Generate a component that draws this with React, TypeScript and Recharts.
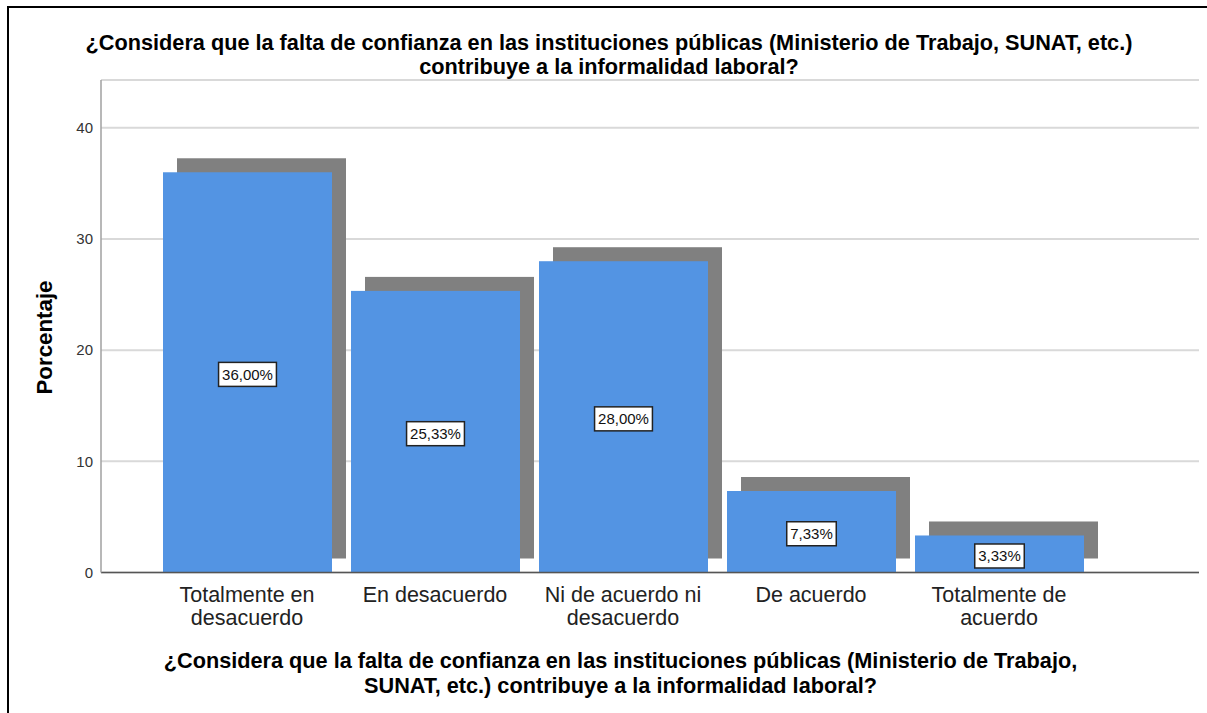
import React from 'react';
import { BarChart, Bar, XAxis, YAxis, CartesianGrid, LabelList } from 'recharts';

const categories = [
  'Totalmente en desacuerdo',
  'En desacuerdo',
  'Ni de acuerdo ni desacuerdo',
  'De acuerdo',
  'Totalmente de acuerdo',
];
const tickLines = [
  ['Totalmente en', 'desacuerdo'],
  ['En desacuerdo'],
  ['Ni de acuerdo ni', 'desacuerdo'],
  ['De acuerdo'],
  ['Totalmente de', 'acuerdo'],
];
const percentages = [36.0, 25.33, 28.0, 7.33, 3.33];
const yTicks = [0, 10, 20, 30, 40];
const titleLines = [
  '¿Considera que la falta de confianza en las instituciones públicas (Ministerio de Trabajo, SUNAT, etc.)',
  'contribuye a la informalidad laboral?',
];
const xTitleLines = [
  '¿Considera que la falta de confianza en las instituciones públicas (Ministerio de Trabajo,',
  'SUNAT, etc.) contribuye a la informalidad laboral?',
];
const yTitle = 'Porcentaje';

const data = categories.map((name, i) => ({ name, value: percentages[i] }));

const FONT = "'Liberation Sans', Arial, Helvetica, sans-serif";
const BLUE = '#5394e3';
const SHADOW = '#808080';
const OFFSET = 14;

const fmt = (v: number) => v.toFixed(2).replace('.', ',') + '%';
const charW: Record<string, number> = { ',': 278, '%': 889, '.': 278 };
const textWidth = (s: string, size: number) =>
  (s.split('').reduce((a, c) => a + (charW[c] ?? 556), 0) * size) / 1000;

const BarShape = (props: any) => {
  const { x, y, width, height } = props;
  if (width == null || height == null) return null;
  return (
    <g>
      <rect x={x + OFFSET} y={y - OFFSET} width={width} height={height} fill={SHADOW} />
      <rect x={x} y={y} width={width} height={height} fill={BLUE} />
    </g>
  );
};

const LabelBox = (props: any) => {
  const vb = props.viewBox || {};
  const x = props.x ?? vb.x;
  const y = props.y ?? vb.y;
  const width = props.width ?? vb.width;
  const height = props.height ?? vb.height;
  const value = props.value;
  if (x == null || value == null) return null;
  const label = fmt(Number(value));
  const fs = 15;
  const tw = textWidth(label, fs);
  const bw = tw + 7;
  const bh = 24;
  const cx = x + width / 2;
  const cy = y + height / 2 + 2;
  return (
    <g>
      <rect x={cx - bw / 2} y={cy - bh / 2} width={bw} height={bh} fill="#ffffff" stroke="#222" strokeWidth={1.5} />
      <text x={cx} y={cy} dy="0.36em" textAnchor="middle" fontSize={fs} fontFamily={FONT} fill="#111">
        {label}
      </text>
    </g>
  );
};

const XTick = (props: any) => {
  const { x, y, payload } = props;
  const idx = categories.indexOf(payload.value);
  const lines = idx >= 0 ? tickLines[idx] : [String(payload.value)];
  return (
    <text x={x} y={y + 29.5} textAnchor="middle" fontSize={21.5} fontFamily={FONT} fill="#222">
      {lines.map((l, i) => (
        <tspan key={i} x={x} dy={i === 0 ? 0 : 23}>
          {l}
        </tspan>
      ))}
    </text>
  );
};

export default function App() {
  return (
    <div style={{ position: 'absolute', left: 0, top: 0, width: 1207, height: 713, background: '#fff' }}>
      <div
        style={{
          position: 'absolute',
          left: 7,
          top: 6,
          width: 1200,
          height: 707,
          borderTop: '2px solid #000',
          borderLeft: '2px solid #000',
          boxSizing: 'border-box',
        }}
      />
      <div style={{ position: 'absolute', left: 0, top: 0 }}>
        <BarChart
          width={1207}
          height={713}
          data={data}
          margin={{ top: 80, right: 8, bottom: 80.5, left: 0 }}
        >
          <CartesianGrid vertical={false} stroke="#d9d9d9" strokeWidth={2} />
          <XAxis
            dataKey="name"
            type="category"
            padding={{ left: 52, right: 106 }}
            height={60}
            tickLine={false}
            tickSize={0}
            tickMargin={0}
            axisLine={{ stroke: '#555', strokeWidth: 1.5 }}
            tick={<XTick />}
            interval={0}
          />
          <YAxis
            type="number"
            domain={[0, 44.3]}
            ticks={yTicks}
            width={101}
            tickLine={false}
            axisLine={{ stroke: '#a0a0a0', strokeWidth: 1.5 }}
            tick={{ fontSize: 15, fontFamily: FONT, fill: '#333' }}
            allowDataOverflow
          />
          <Bar dataKey="value" barSize={169} shape={<BarShape />} isAnimationActive={false}>
            <LabelList dataKey="value" content={<LabelBox />} />
          </Bar>
        </BarChart>
      </div>
      <svg
        width={1207}
        height={713}
        style={{ position: 'absolute', left: 0, top: 0, pointerEvents: 'none' }}
      >
        <text
          x={609}
          y={49.5}
          textAnchor="middle"
          fontSize={21.7}
          fontWeight="bold"
          fontFamily={FONT}
          fill="#000"
        >
          {titleLines.map((t, i) => (
            <tspan key={i} x={609} dy={i === 0 ? 0 : 24.5}>
              {t}
            </tspan>
          ))}
        </text>
        <text
          x={620.5}
          y={668}
          textAnchor="middle"
          fontSize={21.7}
          fontWeight="bold"
          fontFamily={FONT}
          fill="#000"
        >
          {xTitleLines.map((t, i) => (
            <tspan key={i} x={620.5} dy={i === 0 ? 0 : 24.5}>
              {t}
            </tspan>
          ))}
        </text>
        <text
          x={44}
          y={337.5}
          transform="rotate(-90 44 337.5)"
          textAnchor="middle"
          dominantBaseline="central"
          fontSize={22.3}
          fontWeight="bold"
          fontFamily={FONT}
          fill="#000"
        >
          {yTitle}
        </text>
      </svg>
    </div>
  );
}
